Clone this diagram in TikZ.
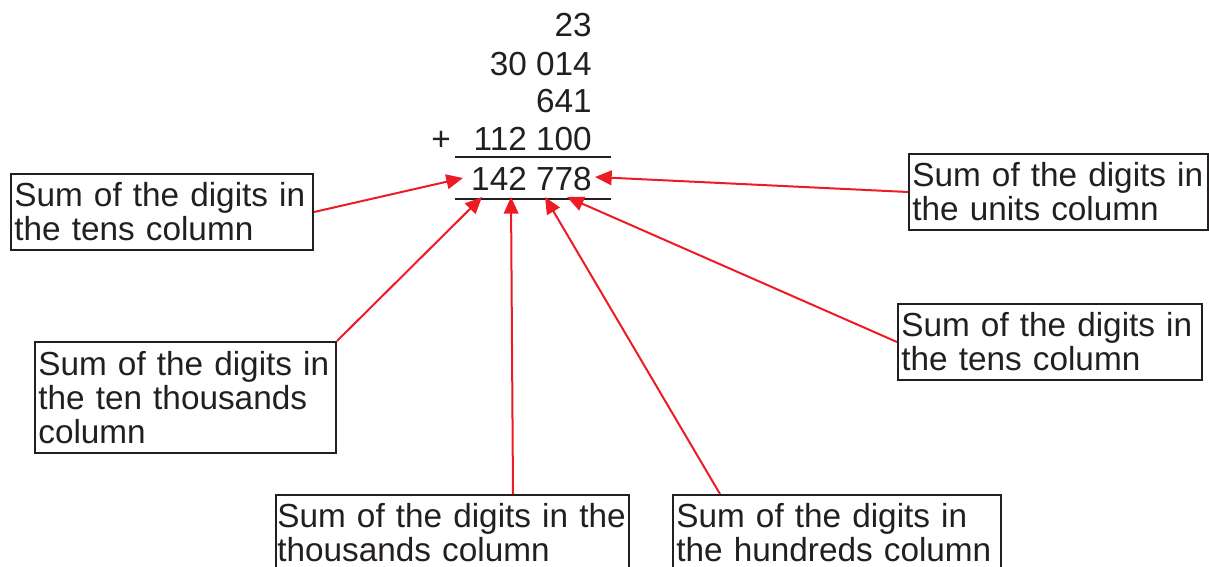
\documentclass[tikz,border=0pt]{standalone}
\usepackage{fontspec}
\setmainfont{Liberation Sans}
\usetikzlibrary{arrows.meta}
\definecolor{Rline}{RGB}{237,28,36}
\definecolor{Kline}{RGB}{35,31,32}

\begin{document}
\begin{tikzpicture}[x=0.75pt,y=-0.75pt,line cap=butt,
  every node/.style={font=\fontsize{25}{25.5}\selectfont,text=Kline},
  digitrow/.style={anchor=base east,inner sep=0pt},
  sumbox/.style={draw=Kline,line width=1.5pt,anchor=north west,align=left,inner xsep=2.5pt,inner ysep=2pt},
  pointer/.style={draw=Rline,line width=1.5pt,-{Triangle[length=12.5pt,width=11pt]}}]
\useasboundingbox (0,0) rectangle (1209,567);
\clip (0,0) rectangle (1209,567);
\node[digitrow] (row1) at (592,37) {23};
\node[digitrow] (row2) at (592,75) {30 014};
\node[digitrow] (row3) at (592,112) {641};
\node[digitrow] (row4) at (592,150) {112 100};
\node[digitrow,anchor=base west] (plus) at (431,150) {+};
\node[digitrow] (sum) at (592,190) {142 778};
\draw[draw=Kline,line width=2pt] (455,157) -- (611,157);
\draw[draw=Kline,line width=2pt] (455,199) -- (611,199);
\node[sumbox,text width=221.5pt,minimum height=57pt] (tensL) at (10,173) {Sum of the digits in\\the tens column};
\node[sumbox,text width=219.25pt,minimum height=57pt] (units) at (908,153) {Sum of the digits in\\the units column};
\node[sumbox,text width=220.75pt,minimum height=83.25pt] (tenthou) at (34,341) {Sum of the digits in\\the ten thousands\\column};
\node[sumbox,text width=223pt,minimum height=57pt] (tensR) at (897,303) {Sum of the digits in\\the tens column};
\node[sumbox,inner xsep=1pt,text width=262.75pt,minimum height=57pt] (thou) at (275,494) {Sum of the digits in the\\thousands column};
\node[sumbox,text width=241pt,minimum height=57pt] (hund) at (672,494) {Sum of the digits in\\the hundreds column};
\coordinate (tipL) at (463,178);
\coordinate (tipU) at (595,177);
\coordinate (tipT) at (482,197);
\coordinate (tipK) at (511,197);
\coordinate (tipH) at (545,197);
\coordinate (tipR) at (567,197);
\draw[pointer] (tensL.east) -- (tipL);
\draw[pointer] (units.west) -- (tipU);
\draw[pointer] (tenthou.north east) -- (tipT);
\draw[pointer] ([xshift=178.5pt]thou.north west) -- (tipK);
\draw[pointer] ([xshift=36pt]hund.north west) -- (tipH);
\draw[pointer] (tensR.west) -- (tipR);
\end{tikzpicture}
\end{document}
